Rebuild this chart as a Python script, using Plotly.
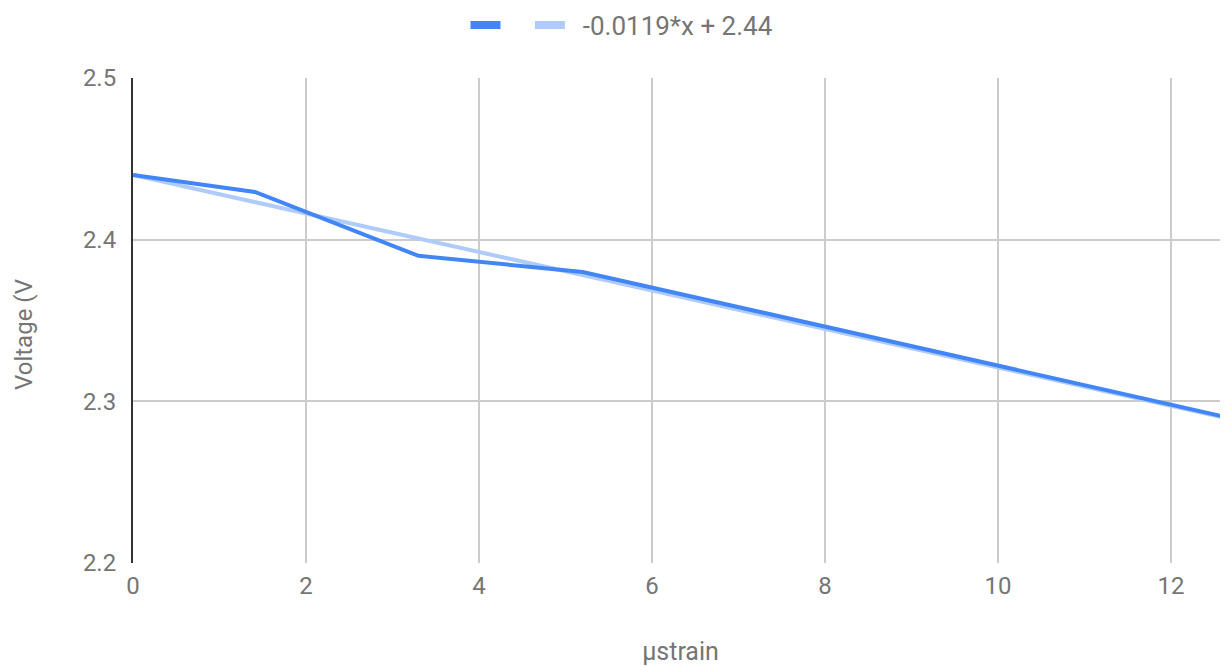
import plotly.graph_objects as go

# data
strain = [0.0, 1.41, 3.3, 5.2, 12.66]
voltage = [2.44, 2.4295, 2.39, 2.38, 2.29]

trend_slope = -0.0119
trend_intercept = 2.44
trend_label = "-0.0119*x + 2.44"
trend_x = [strain[0], strain[-1]]
trend_y = [trend_slope * x + trend_intercept for x in trend_x]

x_ticks = [0, 2, 4, 6, 8, 10, 12]
y_ticks = [2.2, 2.3, 2.4, 2.5]

W, H = 1220, 658  # page body has an 8px margin
PLOT_W = W - 125
PLOT_H = H - 70 - 103

fig = go.Figure()
fig.add_trace(go.Scatter(x=trend_x, y=trend_y, mode="lines", name=trend_label,
                         line=dict(color="#aecbfa", width=4), showlegend=False))
fig.add_trace(go.Scatter(x=strain, y=voltage, mode="lines", name="",
                         line=dict(color="#4285f4", width=4), showlegend=False))
# legend entries
fig.add_trace(go.Scatter(x=[None], y=[None], mode="lines", name="\u00a0\u00a0\u00a0",
                         line=dict(color="#4285f4", width=8)))
fig.add_trace(go.Scatter(x=[None], y=[None], mode="lines", name="\u00a0\u00a0" + trend_label,
                         line=dict(color="#aecbfa", width=8)))

fig.update_layout(
    width=W, height=H,
    paper_bgcolor="white", plot_bgcolor="white",
    margin=dict(l=125, r=0, t=70, b=103, autoexpand=False),
    font=dict(family="Roboto", size=24, color="#757575"),
    legend=dict(orientation="h", x=614 / W, xanchor="center", xref="container",
                y=1 - 17 / H, yanchor="middle", yref="container",
                font=dict(size=26, color="#757575"), itemwidth=30),
    showlegend=True,
    annotations=[dict(text="Voltage (V", textangle=-90, showarrow=False,
                      xref="paper", yref="paper",
                      x=-109 / PLOT_W, y=(485 - 257) / PLOT_H,
                      xanchor="center", yanchor="middle",
                      font=dict(size=24, color="#757575"))],
)
fig.update_xaxes(range=[0, 12.66], tickvals=x_ticks, showgrid=True, gridcolor="#cccccc",
                 gridwidth=2, zeroline=False, showline=False, ticks="",
                 ticklabelstandoff=6,
                 title=dict(text="µstrain", standoff=50, font=dict(size=25)),
                 tickfont=dict(size=24))
fig.update_yaxes(range=[2.2, 2.5], tickvals=y_ticks, tickformat=".1f", showgrid=True,
                 gridcolor="#cccccc", gridwidth=2, zeroline=False,
                 showline=True, linecolor="#333333", linewidth=2, ticks="",
                 ticklabelstandoff=10,
                 tickfont=dict(size=24))
fig.write_html("out.html")
